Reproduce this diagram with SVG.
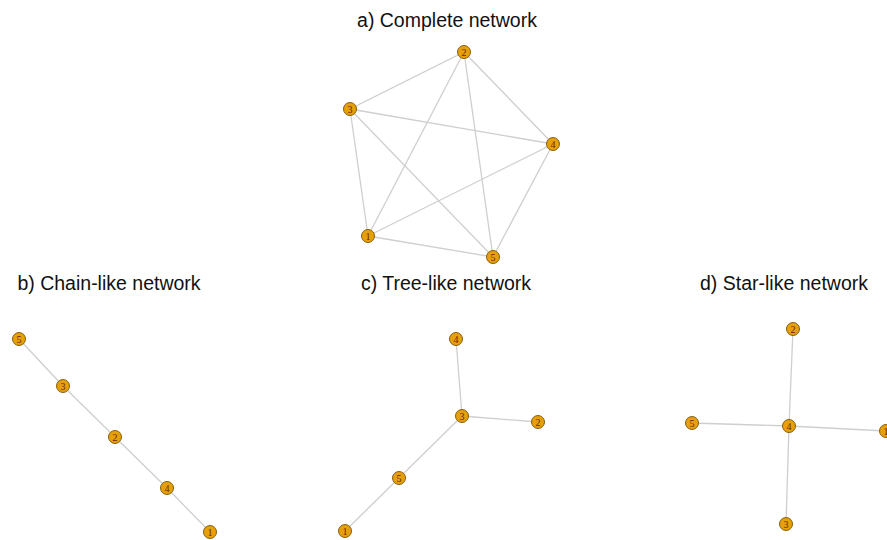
<svg xmlns="http://www.w3.org/2000/svg" width="887" height="540" viewBox="0 0 887 540">
<style>
.title{font-family:"Liberation Sans",Arial,sans-serif;font-size:19.5px;fill:#111;text-anchor:middle}
.edges line{stroke:#cfcfcf;stroke-width:1.3}
.node circle{fill:#E6A00A;stroke:#7a5200;stroke-width:0.9}
.node text{font-family:"Liberation Serif","Times New Roman",serif;font-size:10px;fill:#6b1f10;text-anchor:middle;dominant-baseline:central}
</style>
<rect width="887" height="540" fill="#fff"/>
<text class="title" x="447" y="27">a) Complete network</text>
<text class="title" x="109" y="290">b) Chain-like network</text>
<text class="title" x="446" y="290">c) Tree-like network</text>
<text class="title" x="784" y="290">d) Star-like network</text>
<g id="edges" class="edges">
<line x1="368" y1="236" x2="464" y2="52"/>
<line x1="368" y1="236" x2="350" y2="109"/>
<line x1="368" y1="236" x2="553" y2="144"/>
<line x1="368" y1="236" x2="493" y2="257"/>
<line x1="464" y1="52" x2="350" y2="109"/>
<line x1="464" y1="52" x2="553" y2="144"/>
<line x1="464" y1="52" x2="493" y2="257"/>
<line x1="350" y1="109" x2="553" y2="144"/>
<line x1="350" y1="109" x2="493" y2="257"/>
<line x1="553" y1="144" x2="493" y2="257"/>
<line x1="19" y1="339" x2="63" y2="386"/>
<line x1="63" y1="386" x2="115" y2="437"/>
<line x1="115" y1="437" x2="167" y2="488"/>
<line x1="167" y1="488" x2="210" y2="532"/>
<line x1="456" y1="339" x2="462" y2="416"/>
<line x1="462" y1="416" x2="538" y2="422"/>
<line x1="462" y1="416" x2="399" y2="478"/>
<line x1="399" y1="478" x2="345" y2="531"/>
<line x1="793" y1="329" x2="789" y2="426"/>
<line x1="692" y1="423" x2="789" y2="426"/>
<line x1="789" y1="426" x2="886" y2="431"/>
<line x1="789" y1="426" x2="786" y2="524"/>
</g>
<g id="a1" class="node"><circle cx="368" cy="236" r="6.5"/><text x="368" y="236.5">1</text></g>
<g id="a2" class="node"><circle cx="464" cy="52" r="6.5"/><text x="464" y="52.5">2</text></g>
<g id="a3" class="node"><circle cx="350" cy="109" r="6.5"/><text x="350" y="109.5">3</text></g>
<g id="a4" class="node"><circle cx="553" cy="144" r="6.5"/><text x="553" y="144.5">4</text></g>
<g id="a5" class="node"><circle cx="493" cy="257" r="6.5"/><text x="493" y="257.5">5</text></g>
<g id="b5" class="node"><circle cx="19" cy="339" r="6.5"/><text x="19" y="339.5">5</text></g>
<g id="b3" class="node"><circle cx="63" cy="386" r="6.5"/><text x="63" y="386.5">3</text></g>
<g id="b2" class="node"><circle cx="115" cy="437" r="6.5"/><text x="115" y="437.5">2</text></g>
<g id="b4" class="node"><circle cx="167" cy="488" r="6.5"/><text x="167" y="488.5">4</text></g>
<g id="b1" class="node"><circle cx="210" cy="532" r="6.5"/><text x="210" y="532.5">1</text></g>
<g id="c4" class="node"><circle cx="456" cy="339" r="6.5"/><text x="456" y="339.5">4</text></g>
<g id="c3" class="node"><circle cx="462" cy="416" r="6.5"/><text x="462" y="416.5">3</text></g>
<g id="c2" class="node"><circle cx="538" cy="422" r="6.5"/><text x="538" y="422.5">2</text></g>
<g id="c5" class="node"><circle cx="399" cy="478" r="6.5"/><text x="399" y="478.5">5</text></g>
<g id="c1" class="node"><circle cx="345" cy="531" r="6.5"/><text x="345" y="531.5">1</text></g>
<g id="d2" class="node"><circle cx="793" cy="329" r="6.5"/><text x="793" y="329.5">2</text></g>
<g id="d5" class="node"><circle cx="692" cy="423" r="6.5"/><text x="692" y="423.5">5</text></g>
<g id="d4" class="node"><circle cx="789" cy="426" r="6.5"/><text x="789" y="426.5">4</text></g>
<g id="d1" class="node"><circle cx="886" cy="431" r="6.5"/><text x="886" y="431.5">1</text></g>
<g id="d3" class="node"><circle cx="786" cy="524" r="6.5"/><text x="786" y="524.5">3</text></g>
</svg>
